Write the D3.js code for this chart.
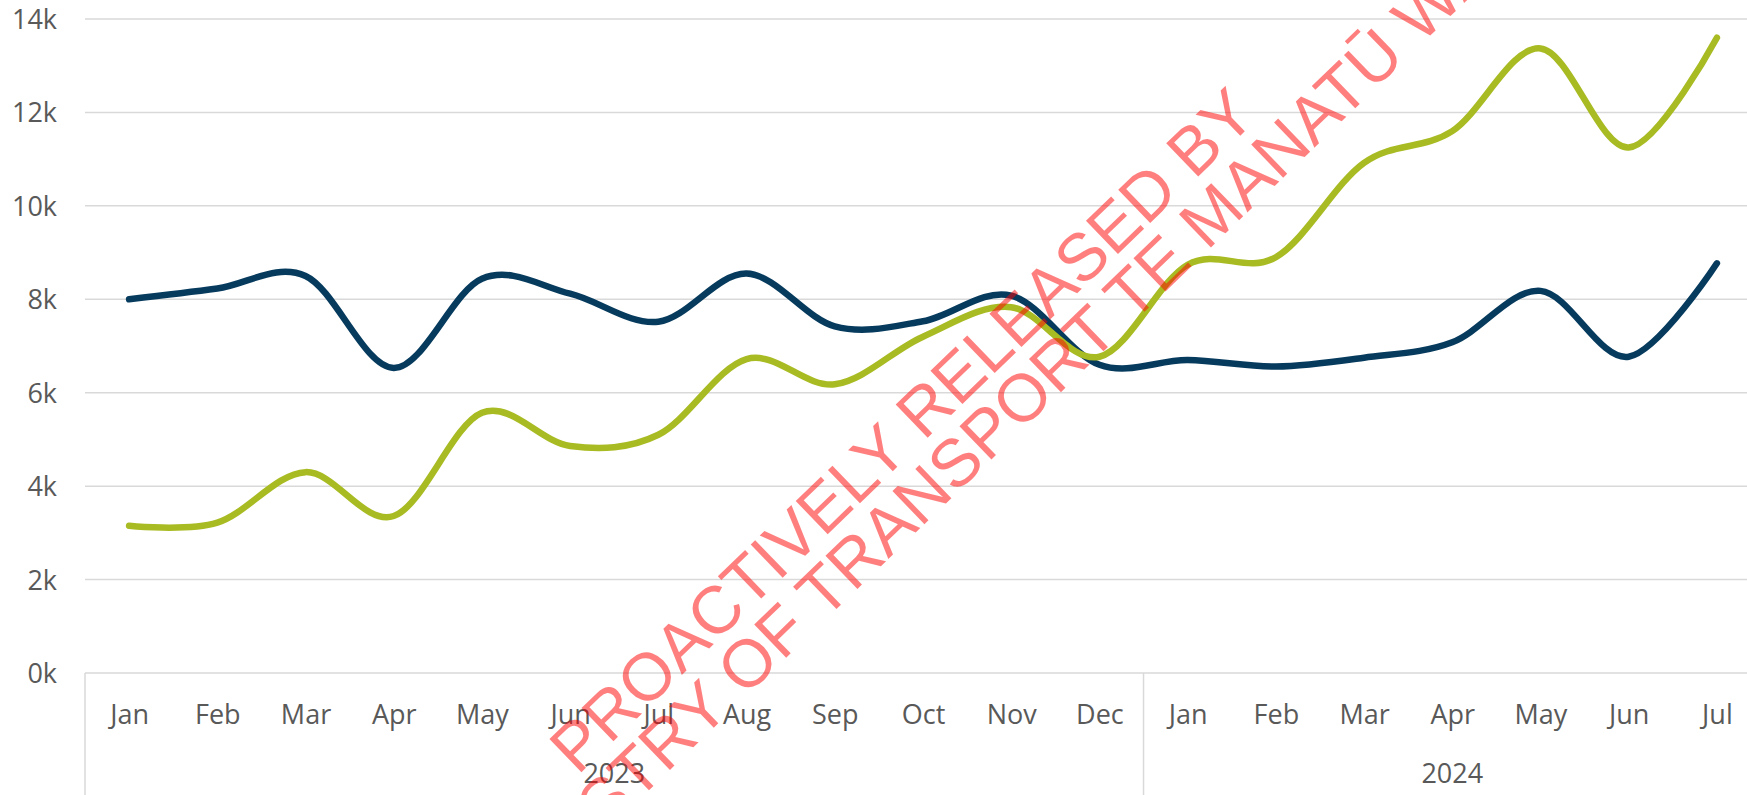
<!DOCTYPE html>
<html>
<head>
<meta charset="utf-8">
<script src="https://cdn.jsdelivr.net/npm/d3@7"></script>
<style>
  html, body { margin: 0; padding: 0; background: #fff; overflow: hidden; }
  svg { display: block; }
  .eixo text { font-family: "Open Sans", sans-serif; font-size: 27px; fill: #595959; }
</style>
</head>
<body>
<svg id="grafico" width="1747" height="795"></svg>
<script>
const meses = ["Jan", "Feb", "Mar", "Apr", "May", "Jun", "Jul", "Aug", "Sep", "Oct", "Nov", "Dec",
               "Jan", "Feb", "Mar", "Apr", "May", "Jun", "Jul"];
const anos = ["2023", "2024"];
const meses_por_ano = [12, 7];
const serie_azul = [8000, 8230, 8500, 6530, 8440, 8120, 7520, 8550, 7420, 7530, 8080, 6600,
                    6700, 6560, 6750, 7080, 8180, 6770, 8770];
const serie_verde = [3150, 3220, 4300, 3360, 5570, 4860, 5100, 6720, 6180, 7200, 7830, 6770,
                     8740, 8900, 10920, 11600, 13370, 11250, 13600];
const ticks_y = [0, 2000, 4000, 6000, 8000, 10000, 12000, 14000];
const marca_dagua = ["PROACTIVELY RELEASED BY", "MINISTRY OF TRANSPORT TE MANATŪ WAKA"];

const svg = d3.select("#grafico");
const esquerda = 85, direita = 1761, topo = 19, base = 673;

const x = d3.scalePoint()
    .domain(d3.range(meses.length))
    .range([esquerda, direita])
    .padding(0.5);
const passo = x.step();

const y = d3.scaleLinear()
    .domain([0, 14000])
    .range([base, topo]);

// linhas de grade
svg.append("g")
    .selectAll("line")
    .data(ticks_y)
    .join("line")
    .attr("x1", esquerda)
    .attr("x2", 1747)
    .attr("y1", d => y(d))
    .attr("y2", d => y(d))
    .attr("stroke", "#d9d9d9")
    .attr("stroke-width", 1.5);

// eixo y
const eixo_y = svg.append("g")
    .attr("class", "eixo")
    .attr("transform", `translate(${esquerda},0)`)
    .call(d3.axisLeft(y).tickValues(ticks_y).tickSize(0).tickPadding(28)
        .tickFormat(d => (d / 1000) + "k"));
eixo_y.select(".domain").remove();
eixo_y.selectAll("text").attr("dy", "0.35em");

// eixo x (meses)
const eixo_x = svg.append("g")
    .attr("class", "eixo")
    .attr("transform", `translate(0,${base})`)
    .call(d3.axisBottom(x).tickSize(0).tickPadding(0).tickFormat(i => meses[i]));
eixo_x.select(".domain").remove();
eixo_x.selectAll("text").attr("y", 42).attr("dy", "0.35em");

// anos e separadores
let inicio = 0;
const grupos = anos.map((a, k) => {
  const g = { ano: a, ini: inicio, fim: inicio + meses_por_ano[k] };
  inicio += meses_por_ano[k];
  return g;
});

const separadores = [0].concat(grupos.map(g => g.fim));
svg.append("g")
    .selectAll("line")
    .data(separadores.slice(0, -1))
    .join("line")
    .attr("x1", i => esquerda + i * passo)
    .attr("x2", i => esquerda + i * passo)
    .attr("y1", base)
    .attr("y2", 795)
    .attr("stroke", "#d9d9d9")
    .attr("stroke-width", 1.5);

svg.append("g")
    .attr("class", "eixo")
    .selectAll("text")
    .data(grupos)
    .join("text")
    .attr("x", g => esquerda + (g.ini + g.fim) / 2 * passo)
    .attr("y", 774)
    .attr("dy", "0.35em")
    .attr("text-anchor", "middle")
    .text(g => g.ano);

// series
const linha = d3.line()
    .x((d, i) => x(i))
    .y(d => y(d))
    .curve(d3.curveCatmullRom.alpha(0));

[[serie_azul, "#073b5e"], [serie_verde, "#a9bb22"]].forEach(([serie, cor]) => {
  svg.append("path")
      .datum(serie)
      .attr("d", linha)
      .attr("fill", "none")
      .attr("stroke", cor)
      .attr("stroke-width", 6.5)
      .attr("stroke-linecap", "round")
      .attr("stroke-linejoin", "round");
});

// marca d'agua
const marca = svg.append("g")
    .attr("transform", "translate(918,447) rotate(-44)")
    .attr("font-family", "'Liberation Sans', Arial, sans-serif")
    .attr("font-size", 67)
    .attr("fill", "rgba(255,0,0,0.5)")
    .attr("text-anchor", "middle");

marca.selectAll("text")
    .data(marca_dagua)
    .join("text")
    .attr("x", (d, i) => i * 100)
    .attr("y", (d, i) => i * 60)
    .text(d => d);
</script>
</body>
</html>
